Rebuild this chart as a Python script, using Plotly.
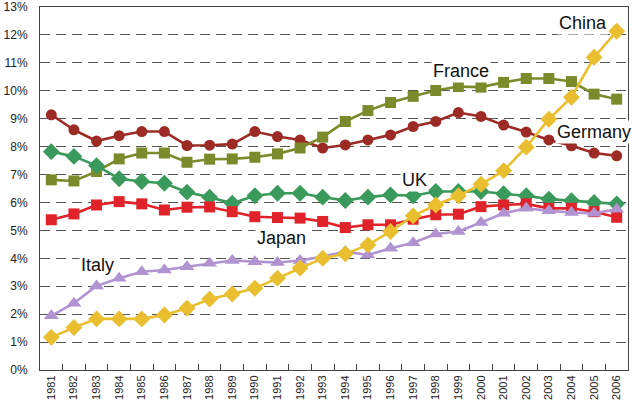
import plotly.graph_objects as go

years = [str(y) for y in range(1981, 2007)]

germany = [9.14, 8.60, 8.20, 8.39, 8.54, 8.54, 8.04, 8.05, 8.09, 8.54, 8.36, 8.24, 7.95, 8.06, 8.24, 8.42, 8.72,
           8.90, 9.22, 9.08, 8.77, 8.52, 8.24, 8.03, 7.77, 7.67]
france = [6.81, 6.77, 7.11, 7.56, 7.77, 7.77, 7.44, 7.55, 7.56, 7.62, 7.74, 7.95, 8.34, 8.90, 9.29, 9.58, 9.80,
          10.01, 10.15, 10.13, 10.30, 10.44, 10.44, 10.33, 9.88, 9.70]
uk = [7.82, 7.65, 7.32, 6.85, 6.75, 6.69, 6.37, 6.19, 5.97, 6.24, 6.33, 6.33, 6.19, 6.07, 6.19, 6.27, 6.24,
      6.39, 6.39, 6.39, 6.31, 6.24, 6.12, 6.06, 6.00, 5.95]
japan = [5.38, 5.59, 5.91, 6.03, 5.95, 5.73, 5.83, 5.84, 5.67, 5.49, 5.46, 5.44, 5.32, 5.10, 5.20, 5.20, 5.40,
         5.56, 5.58, 5.85, 5.91, 5.95, 5.79, 5.79, 5.67, 5.47]
italy = [1.94, 2.39, 3.01, 3.29, 3.52, 3.58, 3.70, 3.82, 3.92, 3.88, 3.85, 3.92, 4.06, 4.24, 4.12, 4.36, 4.56,
         4.87, 4.96, 5.28, 5.61, 5.79, 5.70, 5.64, 5.61, 5.76]
china = [1.17, 1.52, 1.83, 1.83, 1.83, 1.97, 2.21, 2.54, 2.72, 2.93, 3.29, 3.65, 4.00, 4.16, 4.48, 4.96, 5.52,
         5.91, 6.24, 6.65, 7.14, 7.98, 8.98, 9.77, 11.20, 12.13]

series = [
    ("Germany", germany, "#9b2b24", "circle", 11),
    ("France", france, "#7b8a2b", "square", 11),
    ("UK", uk, "#3a9a5c", "diamond", 13),
    ("Japan", japan, "#e0232b", "square", 11),
    ("Italy", italy, "#b193d1", "triangle-up", 13),
    ("China", china, "#e9bf30", "diamond", 13),
]

# label positions (category index, value)
labels = [
    ("China", 23.5, 12.42),
    ("France", 18.1, 10.72),
    ("Germany", 24.0, 8.53),
    ("UK", 16.05, 6.8),
    ("Japan", 10.2, 4.73),
    ("Italy", 2.05, 3.76),
]

fig = go.Figure()
for name, vals, color, sym, size in series:
    fig.add_trace(go.Scatter(
        x=years, y=vals, mode="lines+markers", name=name,
        line=dict(color=color, width=2.6),
        marker=dict(symbol=sym, size=size, color=color),
        showlegend=False,
    ))

for text, xi, yv in labels:
    fig.add_annotation(x=xi, y=yv, xref="x", yref="y", text=text, showarrow=False,
                       font=dict(family="Liberation Sans, Arial", size=18, color="#111"),
                       bgcolor="white", borderpad=1)

fig.update_layout(
    width=640, height=403,
    margin=dict(l=40, r=12, t=7, b=33, autoexpand=False),
    paper_bgcolor="white", plot_bgcolor="white",
    font=dict(family="Liberation Sans, Arial", color="#222"),
)
fig.update_xaxes(
    type="category", range=[-0.5, 25.5], automargin=False,
    showgrid=False, showline=True, linecolor="#444", linewidth=1, mirror=True,
    ticks="inside", tickson="boundaries", ticklen=6, tickcolor="#444",
    tickangle=-90, tickfont=dict(size=11, color="#222"),
)
fig.update_yaxes(
    range=[0, 13], dtick=1, ticksuffix="%", automargin=False,
    showgrid=True, gridcolor="#555", griddash="10px,6px", gridwidth=1,
    zeroline=False, showline=True, linecolor="#444", linewidth=1, mirror=True,
    ticks="outside", ticklen=9, tickcolor="rgba(0,0,0,0)",
    tickfont=dict(size=12, color="#222"),
)

fig.write_html("out.html", config={"displayModeBar": False},
               post_script="document.body.style.margin='0';")
